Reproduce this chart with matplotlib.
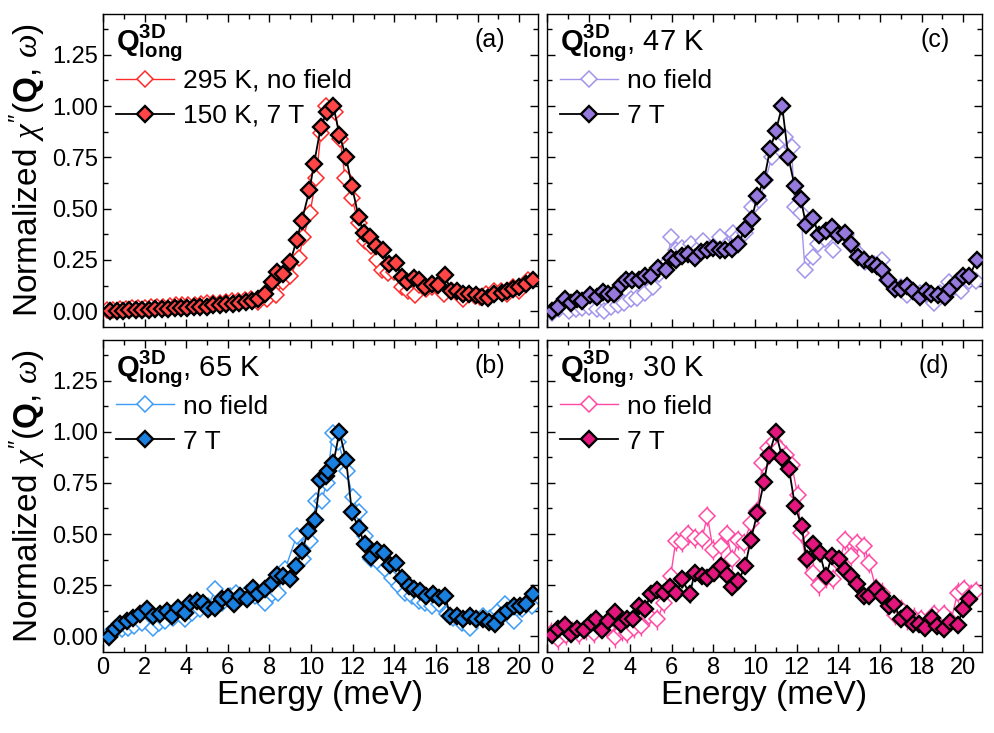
import numpy as np
import matplotlib
matplotlib.use('Agg')
import matplotlib.pyplot as plt
from matplotlib.ticker import MultipleLocator

plt.rcParams['font.family'] = ['Liberation Sans', 'DejaVu Sans']
plt.rcParams['mathtext.fontset'] = 'custom'
plt.rcParams['mathtext.rm'] = 'Liberation Sans'
plt.rcParams['mathtext.bf'] = 'Liberation Sans:bold'
plt.rcParams['mathtext.it'] = 'Liberation Serif:italic'

# (a) 295 K no field / 150 K 7 T
ea_nf = [0.20,0.50,0.80,1.10,1.40,1.70,2.00,2.30,2.60,2.90,3.20,3.50,3.80,4.10,4.40,4.70,5.00,5.30,5.60,5.90,
         6.20,6.50,6.80,7.10,7.45,7.90,8.30,8.67,9.00,9.40,9.63,9.95,10.24,10.47,10.70,11.15,11.40,11.63,11.96,12.28,
         12.60,12.90,13.16,13.40,13.70,14.00,14.35,14.66,14.97,15.20,15.50,15.80,16.10,16.40,16.75,17.05,17.30,17.60,
         17.85,18.10,18.40,18.80,19.10,19.40,19.70,20.00,20.40]
ya_nf = [0.005,0.008,0.010,0.012,0.014,0.016,0.018,0.020,0.020,0.022,0.025,0.028,0.028,0.030,0.032,0.035,0.038,0.042,
         0.040,0.045,0.048,0.050,0.055,0.060,0.045,0.060,0.080,0.140,0.170,0.260,0.360,0.480,0.650,0.870,1.000,0.970,
         0.840,0.650,0.550,0.430,0.340,0.320,0.250,0.200,0.185,0.190,0.120,0.100,0.078,0.130,0.110,0.120,0.120,0.085,
         0.100,0.090,0.060,0.085,0.075,0.070,0.085,0.100,0.100,0.085,0.120,0.100,0.150]
ea_7t = [0.34,0.65,0.96,1.27,1.58,1.89,2.20,2.51,2.82,3.13,3.44,3.75,4.06,4.37,4.68,4.99,5.30,5.61,5.92,6.23,
         6.54,6.85,7.16,7.47,7.78,8.10,8.35,8.67,9.00,9.30,9.55,9.92,10.14,10.47,10.75,11.07,11.36,11.68,11.96,12.28,
         12.52,12.84,13.13,13.45,13.72,14.07,14.36,14.60,14.92,15.20,15.48,15.80,16.10,16.44,16.70,17.00,17.32,17.60,
         17.90,18.20,18.50,18.80,19.17,19.40,19.70,20.00,20.30,20.66]
ya_7t = [0.000,0.000,0.002,0.004,0.005,0.006,0.008,0.010,0.010,0.012,0.014,0.015,0.018,0.020,0.022,0.022,0.028,0.030,
         0.034,0.036,0.040,0.046,0.050,0.058,0.085,0.143,0.190,0.180,0.240,0.346,0.440,0.590,0.720,0.900,0.970,1.000,
         0.860,0.750,0.610,0.460,0.380,0.360,0.320,0.300,0.230,0.235,0.167,0.140,0.160,0.150,0.120,0.135,0.130,0.175,
         0.100,0.100,0.086,0.085,0.080,0.070,0.062,0.086,0.090,0.100,0.110,0.120,0.135,0.150]

# (b) 65 K
eb_nf = [0.28,0.58,0.90,1.20,1.50,1.86,2.40,2.70,3.00,3.35,3.70,3.94,4.26,4.66,5.06,5.39,5.71,6.10,6.40,6.90,
         7.30,7.80,8.10,8.40,8.75,9.30,9.60,9.95,10.24,10.50,10.75,11.04,11.30,11.70,12.00,12.30,12.60,12.90,13.25,13.56,
         13.88,14.20,14.50,14.84,15.16,15.48,15.80,16.12,16.52,16.84,17.24,17.64,17.96,18.28,18.60,19.00,19.33,19.73,
         20.13,20.60]
yb_nf = [0.010,0.025,0.035,0.040,0.050,0.065,0.040,0.065,0.075,0.090,0.107,0.083,0.115,0.132,0.148,0.229,0.164,0.197,
         0.213,0.213,0.197,0.164,0.205,0.213,0.327,0.490,0.376,0.465,0.660,0.660,0.750,0.995,0.950,0.810,0.680,0.606,
         0.490,0.376,0.360,0.327,0.286,0.246,0.213,0.197,0.172,0.164,0.148,0.156,0.107,0.091,0.067,0.040,0.083,0.100,
         0.091,0.124,0.156,0.075,0.132,0.148]
eb_7t = [0.30,0.58,0.82,1.14,1.46,1.78,2.10,2.42,2.74,3.06,3.30,3.62,3.94,4.18,4.50,4.82,5.06,5.39,5.71,6.00,
         6.30,6.59,6.91,7.20,7.47,7.79,8.11,8.35,8.64,8.99,9.28,9.55,9.87,10.19,10.43,10.72,10.83,11.07,11.36,11.68,
         11.96,12.28,12.57,12.87,13.16,13.48,13.77,14.09,14.36,14.68,14.95,15.24,15.53,15.85,16.12,16.44,16.68,17.00,
         17.29,17.61,17.93,18.25,18.53,18.85,19.13,19.41,19.73,20.02,20.34,20.66]
yb_7t = [-0.006,0.035,0.059,0.075,0.091,0.107,0.132,0.100,0.107,0.124,0.100,0.140,0.115,0.164,0.172,0.164,0.132,0.140,
         0.180,0.192,0.156,0.197,0.180,0.237,0.205,0.229,0.262,0.302,0.294,0.278,0.343,0.416,0.514,0.571,0.763,0.783,
         0.807,0.847,1.000,0.864,0.606,0.530,0.449,0.389,0.424,0.408,0.351,0.359,0.286,0.246,0.229,0.221,0.197,0.208,
         0.189,0.197,0.100,0.100,0.083,0.100,0.083,0.083,0.070,0.059,0.100,0.124,0.148,0.148,0.156,0.205]

# (c) 47 K
ec_nf = [0.26,0.60,1.06,1.40,1.70,2.02,2.40,2.75,3.10,3.40,3.70,4.05,4.35,4.70,5.10,5.40,5.80,5.95,6.20,6.50,
         6.90,7.20,7.50,7.85,8.30,8.60,8.95,9.20,9.50,9.87,10.20,10.50,10.80,11.10,11.45,11.75,11.90,12.20,12.40,12.80,
         13.00,13.35,13.75,14.00,14.35,14.65,15.00,15.30,15.70,16.10,16.35,16.70,17.00,17.30,17.60,17.90,18.20,18.60,
         18.90,19.30,19.60,19.90,20.30,20.60]
yc_nf = [-0.01,0.01,0.00,0.01,0.015,0.02,0.01,0.00,0.02,0.03,0.04,0.06,0.065,0.09,0.12,0.18,0.24,0.36,0.30,0.31,
         0.33,0.30,0.34,0.31,0.36,0.32,0.38,0.36,0.38,0.51,0.54,0.64,0.75,0.82,0.85,0.80,0.51,0.48,0.20,0.265,
         0.33,0.35,0.30,0.38,0.37,0.32,0.28,0.24,0.23,0.25,0.15,0.115,0.12,0.08,0.10,0.09,0.085,0.04,0.09,0.14,
         0.12,0.10,0.145,0.145]
ec_7t = [0.22,0.54,0.87,1.14,1.46,1.70,2.07,2.40,2.68,2.95,3.22,3.54,3.80,4.10,4.40,4.70,5.00,5.35,5.70,5.94,
         6.20,6.50,6.80,7.10,7.40,7.70,8.00,8.30,8.55,8.90,9.20,9.52,9.84,10.10,10.43,10.72,11.00,11.30,11.60,11.90,
         12.20,12.45,12.80,13.05,13.40,13.68,14.00,14.30,14.60,14.95,15.25,15.60,15.85,16.10,16.40,16.70,17.00,17.30,
         17.60,17.90,18.20,18.45,18.80,19.10,19.35,19.70,20.00,20.30,20.65]
yc_7t = [0.00,0.02,0.06,0.04,0.06,0.05,0.08,0.07,0.094,0.085,0.085,0.127,0.15,0.15,0.15,0.17,0.17,0.21,0.20,0.26,
         0.25,0.27,0.28,0.26,0.29,0.30,0.31,0.30,0.30,0.305,0.33,0.40,0.45,0.56,0.64,0.79,0.88,1.00,0.75,0.61,
         0.545,0.42,0.455,0.37,0.39,0.41,0.37,0.38,0.33,0.265,0.25,0.23,0.22,0.20,0.15,0.11,0.11,0.125,0.10,0.07,
         0.10,0.085,0.08,0.07,0.11,0.14,0.17,0.17,0.25]

# (d) 30 K
ed_nf = [0.18,0.55,0.90,1.22,1.54,1.86,2.26,2.58,2.90,3.27,3.59,3.86,4.18,4.50,4.90,5.30,5.62,5.94,6.19,6.51,
         6.79,7.12,7.44,7.71,7.98,8.35,8.64,8.91,9.20,9.47,9.79,10.11,10.35,10.64,10.91,11.15,11.47,11.76,12.04,12.20,
         12.44,12.76,13.08,13.40,13.72,14.04,14.33,14.60,14.92,15.24,15.48,15.80,16.12,16.44,16.73,17.00,17.32,17.64,
         17.96,18.28,18.60,19.09,19.41,19.73,20.05,20.37,20.60]
yd_nf = [0.018,-0.015,0.005,0.026,0.010,0.034,0.015,0.042,0.042,-0.006,0.026,0.015,0.042,0.050,0.100,0.083,0.164,0.294,
         0.465,0.460,0.498,0.481,0.476,0.587,0.424,0.440,0.498,0.376,0.470,0.457,0.554,0.611,0.847,0.920,0.952,0.920,
         0.888,0.839,0.693,0.505,0.376,0.311,0.249,0.286,0.281,0.359,0.470,0.392,0.457,0.440,0.359,0.237,0.213,0.148,
         0.103,0.132,0.083,0.091,0.083,0.067,0.107,0.107,0.075,0.213,0.229,0.205,0.221]
ed_7t = [0.22,0.55,0.87,1.14,1.46,1.78,2.10,2.34,2.63,2.95,3.27,3.54,3.83,4.15,4.42,4.71,4.98,5.30,5.62,5.90,
         6.22,6.50,6.86,7.10,7.44,7.71,8.03,8.35,8.67,8.91,9.20,9.52,9.79,10.11,10.43,10.67,10.99,11.31,11.63,11.92,
         12.24,12.47,12.79,13.11,13.40,13.69,14.01,14.33,14.60,14.92,15.24,15.48,15.80,16.12,16.41,16.68,17.00,17.32,
         17.60,17.88,18.17,18.49,18.76,19.09,19.36,19.73,19.97,20.29]
yd_7t = [0.005,0.037,0.054,0.010,0.037,0.030,0.067,0.083,0.030,0.075,0.119,0.059,0.083,0.086,0.148,0.132,0.205,0.226,
         0.213,0.242,0.213,0.278,0.205,0.311,0.294,0.286,0.311,0.343,0.302,0.242,0.270,0.343,0.470,0.603,0.757,0.888,
         0.997,0.872,0.818,0.636,0.538,0.376,0.449,0.405,0.294,0.392,0.376,0.323,0.294,0.254,0.197,0.197,0.229,0.197,
         0.148,0.156,0.083,0.107,0.059,0.059,0.042,0.091,0.050,0.037,0.070,0.054,0.132,0.184]

# typical error bar size per panel (nf, 7T)
errs = {'a': (0.01, 0.01), 'b': (0.02, 0.02), 'c': (0.015, 0.015), 'd': (0.05, 0.04)}

Qlab = r'$\mathbf{Q}^{\mathbf{3D}}_{\mathbf{long}}$'
panels = {
    'a': dict(nf=(ea_nf, ya_nf), t7=(ea_7t, ya_7t), c_open='#ff2a2a', c_fill='#ff4545',
              title=Qlab, lab=('295 K, no field', '150 K, 7 T')),
    'c': dict(nf=(ec_nf, yc_nf), t7=(ec_7t, yc_7t), c_open='#a493ea', c_fill='#9579dc',
              title=Qlab + ', 47 K', lab=('no field', '7 T')),
    'b': dict(nf=(eb_nf, yb_nf), t7=(eb_7t, yb_7t), c_open='#3d9cf5', c_fill='#1a80e0',
              title=Qlab + ', 65 K', lab=('no field', '7 T')),
    'd': dict(nf=(ed_nf, yd_nf), t7=(ed_7t, yd_7t), c_open='#ff48a4', c_fill='#e2167c',
              title=Qlab + ', 30 K', lab=('no field', '7 T')),
}

fig = plt.figure(figsize=(9.95, 7.33), dpi=100)
W = 0.4372
boxes = {'a': [0.1035, 0.5539, W, 0.427], 'c': [0.5497, 0.5539, W, 0.427],
         'b': [0.1035, 0.1105, W, 0.4256], 'd': [0.5497, 0.1105, W, 0.4256]}

for key in ['a', 'c', 'b', 'd']:
    p = panels[key]
    ax = fig.add_axes(boxes[key])
    en, yn = p['nf']
    et, yt = p['t7']
    # error bars, then lines + diamonds on top
    ax.errorbar(en, yn, yerr=errs[key][0], fmt='none', ecolor=p['c_open'], elinewidth=1.0, capsize=0, zorder=1)
    ln1, = ax.plot(en, yn, color=p['c_open'], lw=1.0, marker='D', ms=8.5, mfc='white',
                   mec=p['c_open'], mew=1.1, label=p['lab'][0], zorder=2)
    ax.errorbar(et, yt, yerr=errs[key][1], fmt='none', ecolor='black', elinewidth=1.0, capsize=0, zorder=2.5)
    ln2, = ax.plot(et, yt, color='black', lw=1.3, marker='D', ms=8.5, mfc=p['c_fill'],
                   mec='black', mew=1.7, label=p['lab'][1], zorder=3)
    ax.set_xlim(0, 20.9)
    ax.set_ylim(-0.077, 1.449)
    ax.xaxis.set_major_locator(MultipleLocator(2))
    ax.xaxis.set_minor_locator(MultipleLocator(1))
    ax.yaxis.set_major_locator(MultipleLocator(0.25))
    ax.yaxis.set_minor_locator(MultipleLocator(0.125))
    ax.tick_params(which='both', direction='in', top=True, right=True, labelsize=17)
    ax.tick_params(which='major', length=6, width=1)
    ax.tick_params(which='minor', length=3.5, width=1)
    ax.yaxis.set_major_formatter(matplotlib.ticker.FormatStrFormatter('%.2f'))
    for s in ax.spines.values():
        s.set_linewidth(1.0)
    if key in ('a', 'c'):
        ax.tick_params(labelbottom=False)
    else:
        ax.set_xlabel('Energy (meV)', fontsize=24, labelpad=1)
    if key in ('c', 'd'):
        ax.tick_params(labelleft=False)
    else:
        ax.set_ylabel(r"Normalized $\chi''$($\mathbf{Q}$, $\omega$)", fontsize=24, labelpad=3)
    ax.text(0.03, 0.885, p['title'], transform=ax.transAxes, fontsize=21, va='baseline', ha='left')
    ax.text(0.925, 0.893, '(%s)' % key, transform=ax.transAxes, fontsize=18, va='baseline', ha='right')
    ax.legend([ln1, ln2], list(p['lab']), loc='upper left', bbox_to_anchor=(0.03, 0.825), frameon=False,
              fontsize=19, borderpad=0, borderaxespad=0, handlelength=2.2, handletextpad=0.35,
              labelspacing=0.42)

fig.savefig('out.png', dpi=100)
